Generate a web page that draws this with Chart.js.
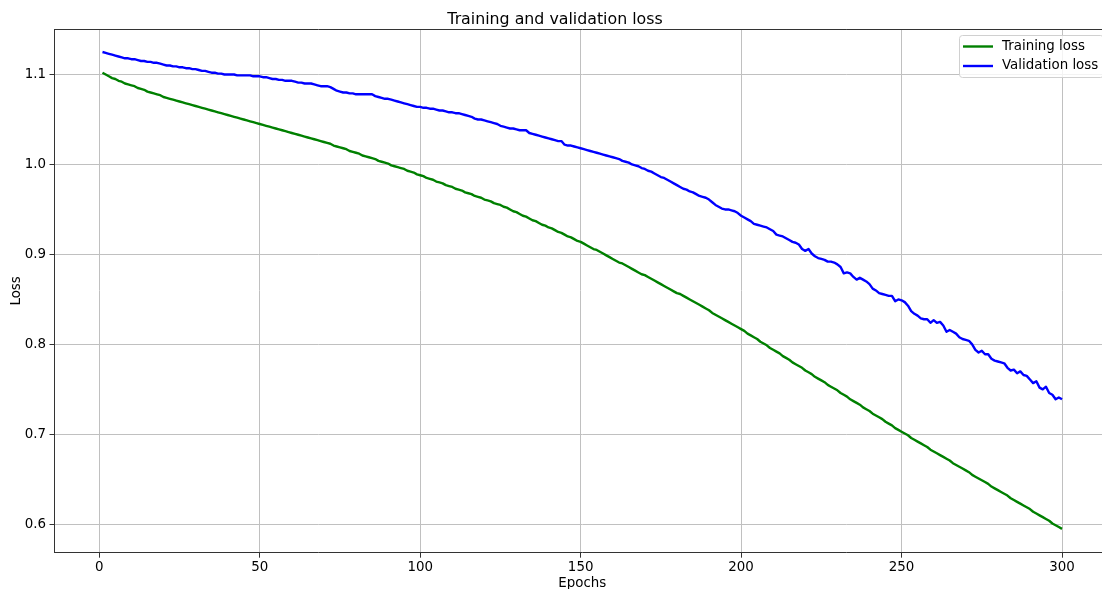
<!DOCTYPE html>
<html lang="en">
<head>
    <meta charset="UTF-8">
    <title>Training and validation loss</title>
    <script src="https://cdn.jsdelivr.net/npm/chart.js"></script>
    <style>
        html, body { margin: 0; padding: 0; overflow: hidden; background: #fff; }
        #wrap { width: 1110px; height: 589px; }
    </style>
</head>
<body>
    <div id="wrap">
        <canvas id="lossChart" width="1110" height="589"></canvas>
    </div>

    <script>
        // Values, one per epoch (1..300)
        const trainLoss = [
            1.102,1.100,1.098,1.096,1.095,1.093,1.092,1.090,1.089,1.088,
            1.087,1.085,1.084,1.083,1.081,1.080,1.079,1.078,1.077,1.075,
            1.074,1.073,1.072,1.071,1.070,1.069,1.068,1.067,1.066,1.065,
            1.064,1.063,1.062,1.061,1.060,1.059,1.058,1.057,1.056,1.055,
            1.054,1.053,1.052,1.051,1.050,1.049,1.048,1.047,1.046,1.045,
            1.044,1.043,1.042,1.041,1.040,1.039,1.038,1.037,1.036,1.035,
            1.034,1.033,1.032,1.031,1.030,1.029,1.028,1.027,1.026,1.025,
            1.024,1.023,1.021,1.020,1.019,1.018,1.017,1.015,1.014,1.013,
            1.012,1.010,1.009,1.008,1.007,1.006,1.004,1.003,1.002,1.001,
            0.999,0.998,0.997,0.996,0.995,0.993,0.992,0.991,0.989,0.988,
            0.987,0.985,0.984,0.983,0.981,0.980,0.979,0.977,0.976,0.975,
            0.973,0.972,0.971,0.969,0.968,0.967,0.965,0.964,0.963,0.961,
            0.960,0.959,0.957,0.956,0.955,0.953,0.952,0.950,0.948,0.947,
            0.945,0.943,0.942,0.940,0.938,0.937,0.935,0.933,0.932,0.930,
            0.929,0.927,0.925,0.924,0.922,0.920,0.919,0.917,0.915,0.914,
            0.912,0.910,0.908,0.906,0.905,0.903,0.901,0.899,0.897,0.895,
            0.893,0.891,0.890,0.888,0.886,0.884,0.882,0.880,0.878,0.877,
            0.875,0.873,0.871,0.869,0.867,0.865,0.863,0.861,0.859,0.857,
            0.856,0.854,0.852,0.850,0.848,0.846,0.844,0.842,0.840,0.838,
            0.835,0.833,0.831,0.829,0.827,0.825,0.823,0.821,0.819,0.817,
            0.815,0.812,0.810,0.808,0.806,0.803,0.801,0.799,0.796,0.794,
            0.792,0.790,0.787,0.785,0.783,0.780,0.778,0.776,0.774,0.771,
            0.769,0.767,0.764,0.762,0.760,0.758,0.755,0.753,0.751,0.749,
            0.746,0.744,0.742,0.739,0.737,0.735,0.733,0.730,0.728,0.726,
            0.723,0.721,0.719,0.717,0.714,0.712,0.710,0.707,0.705,0.703,
            0.701,0.699,0.696,0.694,0.692,0.690,0.688,0.686,0.683,0.681,
            0.679,0.677,0.675,0.673,0.671,0.668,0.666,0.664,0.662,0.660,
            0.658,0.655,0.653,0.651,0.649,0.647,0.645,0.642,0.640,0.638,
            0.636,0.634,0.632,0.629,0.627,0.625,0.623,0.621,0.619,0.617,
            0.614,0.612,0.610,0.608,0.606,0.604,0.601,0.599,0.597,0.595
        ];

        const valLoss = [
            1.125,1.124,1.123,1.122,1.121,1.120,1.119,1.118,1.118,1.117,
            1.117,1.116,1.115,1.115,1.114,1.114,1.113,1.113,1.112,1.111,
            1.110,1.110,1.109,1.109,1.108,1.108,1.107,1.107,1.106,1.106,
            1.105,1.104,1.104,1.103,1.102,1.102,1.101,1.101,1.100,1.100,
            1.100,1.100,1.099,1.099,1.099,1.099,1.099,1.098,1.098,1.098,
            1.097,1.097,1.096,1.095,1.095,1.094,1.094,1.093,1.093,1.093,
            1.092,1.091,1.091,1.090,1.090,1.090,1.089,1.088,1.087,1.087,
            1.087,1.086,1.084,1.082,1.081,1.080,1.080,1.079,1.079,1.078,
            1.078,1.078,1.078,1.078,1.078,1.076,1.075,1.074,1.073,1.073,
            1.072,1.071,1.070,1.069,1.068,1.067,1.066,1.065,1.064,1.064,
            1.063,1.063,1.062,1.062,1.061,1.060,1.060,1.059,1.058,1.058,
            1.057,1.057,1.056,1.055,1.054,1.053,1.051,1.050,1.050,1.049,
            1.048,1.047,1.046,1.045,1.043,1.042,1.041,1.040,1.040,1.039,
            1.038,1.038,1.038,1.035,1.034,1.033,1.032,1.031,1.030,1.029,
            1.028,1.027,1.026,1.026,1.022,1.021,1.021,1.020,1.019,1.018,
            1.017,1.016,1.015,1.014,1.013,1.012,1.011,1.010,1.009,1.008,
            1.007,1.006,1.004,1.003,1.002,1.000,0.999,0.998,0.996,0.995,
            0.993,0.992,0.990,0.988,0.986,0.985,0.983,0.981,0.979,0.977,
            0.975,0.973,0.972,0.970,0.969,0.967,0.965,0.964,0.963,0.961,
            0.958,0.955,0.953,0.951,0.950,0.950,0.949,0.948,0.946,0.943,
            0.941,0.939,0.937,0.934,0.933,0.932,0.931,0.930,0.928,0.926,
            0.922,0.921,0.920,0.918,0.916,0.914,0.913,0.911,0.906,0.904,
            0.906,0.901,0.898,0.896,0.895,0.894,0.892,0.892,0.891,0.889,
            0.886,0.879,0.880,0.879,0.875,0.872,0.874,0.872,0.870,0.867,
            0.862,0.860,0.857,0.856,0.855,0.854,0.854,0.848,0.850,0.849,
            0.847,0.843,0.837,0.834,0.832,0.829,0.828,0.828,0.824,0.827,
            0.824,0.825,0.821,0.814,0.816,0.814,0.812,0.808,0.806,0.805,
            0.804,0.800,0.794,0.791,0.793,0.789,0.789,0.784,0.782,0.781,
            0.780,0.779,0.774,0.771,0.772,0.768,0.770,0.766,0.765,0.761,
            0.757,0.759,0.752,0.750,0.753,0.746,0.744,0.739,0.741,0.739
        ];

        const epochs = trainLoss.map((v, i) => i + 1);
        const xTicks = [0, 50, 100, 150, 200, 250, 300];
        const yTicks = [0.6, 0.7, 0.8, 0.9, 1.0, 1.1];

        Chart.defaults.font.family = "'DejaVu Sans', sans-serif";
        Chart.defaults.font.size = 13.4;
        Chart.defaults.color = '#000';

        // top spine + matplotlib style legend box in the upper right
        const framePlugin = {
            id: 'frame',
            afterDraw(chart) {
                const { ctx, chartArea } = chart;
                ctx.save();
                ctx.strokeStyle = '#333';
                ctx.lineWidth = 1;
                ctx.beginPath();
                ctx.moveTo(chartArea.left, Math.round(chartArea.top) + 0.5);
                ctx.lineTo(chartArea.right, Math.round(chartArea.top) + 0.5);
                ctx.moveTo(Math.round(chartArea.right) - 0.5, chartArea.top);
                ctx.lineTo(Math.round(chartArea.right) - 0.5, chartArea.bottom);
                ctx.stroke();

                // legend
                const bx = 959.5, by = 35.5, bw = 144, bh = 42;
                ctx.fillStyle = 'rgba(255,255,255,0.8)';
                ctx.strokeStyle = '#d0d0d0';
                ctx.beginPath();
                ctx.roundRect(bx, by, bw, bh, 3);
                ctx.fill();
                ctx.stroke();
                chart.data.datasets.forEach((ds, i) => {
                    const y = 46.5 + i * 19.5;
                    ctx.strokeStyle = ds.borderColor;
                    ctx.lineWidth = 2.4;
                    ctx.beginPath();
                    ctx.moveTo(963, y);
                    ctx.lineTo(993, y);
                    ctx.stroke();
                    ctx.fillStyle = '#000';
                    ctx.font = "13.4px 'DejaVu Sans'";
                    ctx.textBaseline = 'middle';
                    ctx.textAlign = 'left';
                    ctx.fillText(ds.label, 1002, y);
                });
                ctx.restore();
            }
        };

        const ctx = document.getElementById('lossChart').getContext('2d');
        new Chart(ctx, {
            type: 'line',
            data: {
                datasets: [
                    {
                        label: 'Training loss',
                        data: epochs.map((e, i) => ({ x: e, y: trainLoss[i] })),
                        borderColor: '#008000',
                        borderWidth: 2.4,
                        pointRadius: 0,
                        borderJoinStyle: 'round',
                        fill: false
                    },
                    {
                        label: 'Validation loss',
                        data: epochs.map((e, i) => ({ x: e, y: valLoss[i] })),
                        borderColor: '#0000ff',
                        borderWidth: 2.4,
                        pointRadius: 0,
                        borderJoinStyle: 'round',
                        fill: false
                    }
                ]
            },
            options: {
                responsive: false,
                animation: false,
                devicePixelRatio: 1,
                layout: { padding: 0 },
                plugins: {
                    legend: { display: false },
                    tooltip: { enabled: false },
                    title: {
                        display: true,
                        text: 'Training and validation loss',
                        font: { size: 15.8, weight: 'normal' },
                        color: '#000',
                        padding: { top: 10.1, bottom: 0 }
                    }
                },
                scales: {
                    x: {
                        type: 'linear',
                        min: -13.95,
                        max: 314.95,
                        afterFit(scale) { scale.height = 36.3; },
                        afterBuildTicks(scale) { scale.ticks = xTicks.map(v => ({ value: v })); },
                        ticks: {
                            padding: 1.5,
                            color: '#000',
                            maxRotation: 0,
                            callback: v => String(v)
                        },
                        grid: {
                            color: '#c0c0c0',
                            lineWidth: 1,
                            tickColor: '#333',
                            tickLength: 5
                        },
                        border: { display: true, color: '#333', width: 1 },
                        title: {
                            display: true,
                            text: 'Epochs',
                            font: { size: 13.4, lineHeight: 0.85 },
                            padding: { top: 0, bottom: 0 }
                        }
                    },
                    y: {
                        min: 0.5685,
                        max: 1.1505,
                        afterFit(scale) { scale.width = 54.5; },
                        afterBuildTicks(scale) { scale.ticks = yTicks.map(v => ({ value: v })); },
                        ticks: {
                            padding: 3.5,
                            color: '#000',
                            callback: v => v.toFixed(1)
                        },
                        grid: {
                            color: '#c0c0c0',
                            lineWidth: 1,
                            tickColor: '#333',
                            tickLength: 5
                        },
                        border: { display: true, color: '#333', width: 1 },
                        title: {
                            display: true,
                            text: 'Loss',
                            font: { size: 13.4, lineHeight: 1 },
                            padding: { top: 9.5, bottom: 0 }
                        }
                    }
                }
            },
            plugins: [framePlugin]
        });
    </script>
</body>
</html>
